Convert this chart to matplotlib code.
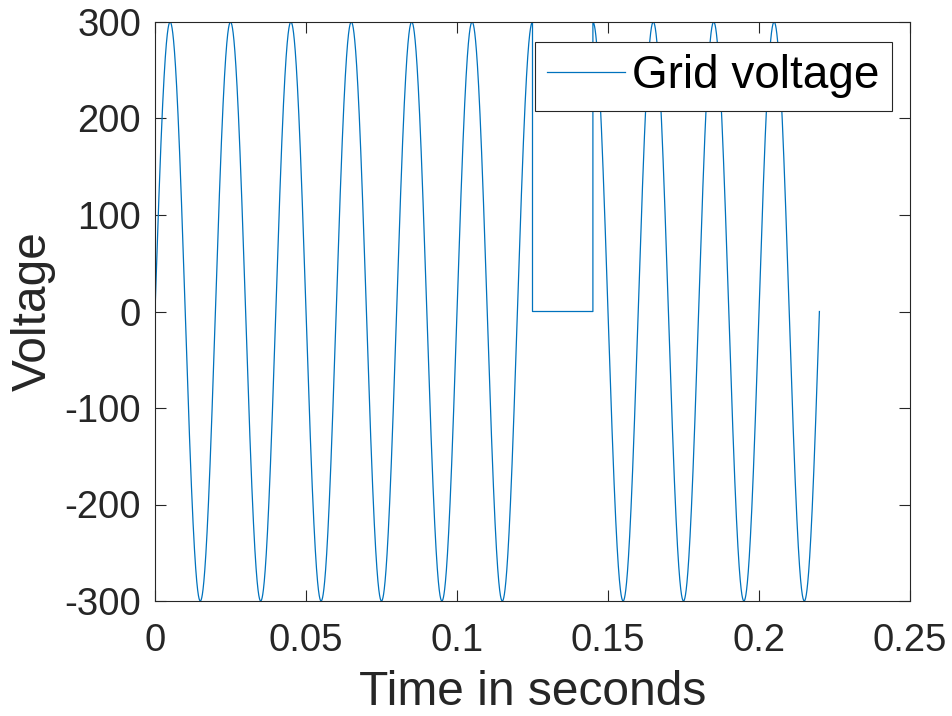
import numpy as np
import matplotlib
matplotlib.use("Agg")
import matplotlib.pyplot as plt

# Signal parameters
amplitude = 300.0          # peak voltage
frequency = 50.0           # Hz (period 0.02 s)
t_start = 0.0
t_end = 0.22
sample_step = 1e-5
sag_start = 0.125          # voltage interruption start
sag_end = 0.145            # voltage interruption end

x_ticks = [0, 0.05, 0.1, 0.15, 0.2, 0.25]
x_tick_labels = ["0", "0.05", "0.1", "0.15", "0.2", "0.25"]
y_ticks = [-300, -200, -100, 0, 100, 200, 300]
y_tick_labels = ["-300", "-200", "-100", "0", "100", "200", "300"]

t_a = np.arange(t_start, sag_start + sample_step / 2, sample_step)
t_b = np.arange(sag_end, t_end + sample_step / 2, sample_step)
v_a = amplitude * np.sin(2 * np.pi * frequency * t_a)
v_b = amplitude * np.sin(2 * np.pi * frequency * t_b)
t = np.concatenate([t_a, [sag_start, sag_end], t_b])
v = np.concatenate([v_a, [0.0, 0.0], v_b])

plt.rcParams['font.family'] = ['Liberation Sans', 'DejaVu Sans']

fig = plt.figure(figsize=(9.52, 7.16), dpi=100)
ax = fig.add_axes([155 / 952, 1 - 601 / 716, (910 - 155) / 952, (601 - 22) / 716])

ax.plot(t, v, color='#0072BD', linewidth=0.9, label='Grid voltage')

ax.set_xlim(0, 0.25)
ax.set_ylim(-300, 300)
ax.set_xticks(x_ticks)
ax.set_xticklabels(x_tick_labels)
ax.set_yticks(y_ticks)
ax.set_yticklabels(y_tick_labels)

tick_color = '#262626'
ax.tick_params(direction='in', length=8, width=0.8, colors=tick_color,
               labelsize=27.5, top=True, right=True, pad=10)
ax.tick_params(axis='x', pad=16)
for s in ax.spines.values():
    s.set_color(tick_color)
    s.set_linewidth(0.8)

ax.set_xlabel('Time in seconds', fontsize=34.5, color=tick_color, labelpad=8)
ax.set_ylabel('Voltage', fontsize=34.5, color=tick_color, labelpad=6.5)

leg = ax.legend(loc='upper right', bbox_to_anchor=(892 / 952, 1 - 42 / 716),
                bbox_transform=fig.transFigure, borderaxespad=0,
                fontsize=33, fancybox=False, framealpha=1, edgecolor='#262626',
                handlelength=1.7, handletextpad=0.15, borderpad=0.27)
leg.get_frame().set_linewidth(0.8)

fig.savefig('out.png', dpi=100)
